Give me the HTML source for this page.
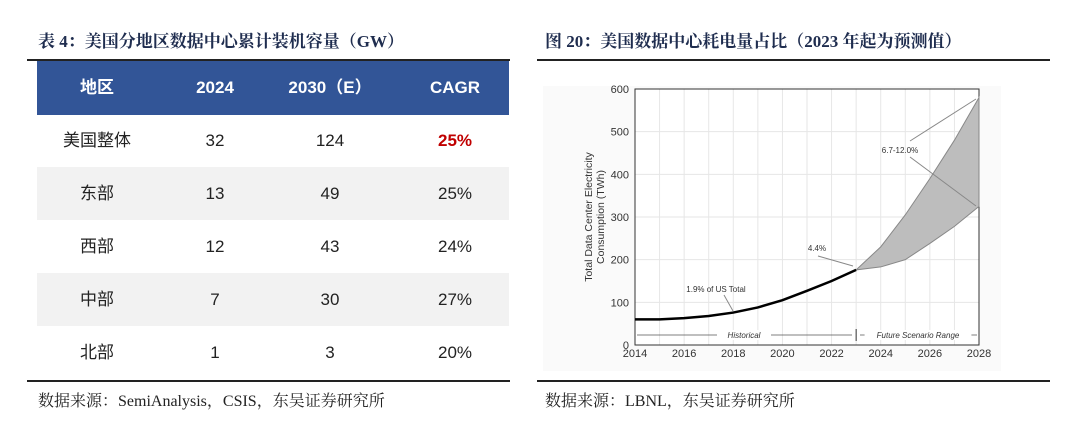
<!DOCTYPE html>
<html><head><meta charset="utf-8"><style>
body{margin:0;width:1080px;height:434px;background:#fff;position:relative;font-family:"Liberation Serif","Noto Serif CJK SC",serif;overflow:hidden}
.t{position:absolute;font-weight:bold;font-size:17px;color:#1f2d4f;line-height:24px}
.src{position:absolute;font-size:16px;color:#222;top:391px;line-height:22px}
.row{position:absolute;left:37px;width:472px;height:53px;font-family:"Liberation Sans","Noto Sans CJK SC",sans-serif;font-size:17px;color:#222}
.row span{position:absolute;top:0;line-height:53px;width:140px;margin-left:-70px;text-align:center}
.hd{background:#325597;color:#fff;font-weight:bold;height:54px}
.g{background:#f2f2f2}
</style></head><body>
<div class="t" style="left:38px;top:30px">表 4：美国分地区数据中心累计装机容量（GW）</div>
<div style="position:absolute;left:27px;top:59px;width:483px;height:2px;background:#222"></div>
<div>
<div class="row hd" style="top:61px"><span style="left:60px">地区</span><span style="left:178px">2024</span><span style="left:293px">2030（E）</span><span style="left:418px">CAGR</span></div>
<div class="row" style="top:114px"><span style="left:60px">美国整体</span><span style="left:178px">32</span><span style="left:293px">124</span><span style="left:418px;color:#c00000;font-weight:bold">25%</span></div>
<div class="row g" style="top:167px"><span style="left:60px">东部</span><span style="left:178px">13</span><span style="left:293px">49</span><span style="left:418px">25%</span></div>
<div class="row" style="top:220px"><span style="left:60px">西部</span><span style="left:178px">12</span><span style="left:293px">43</span><span style="left:418px">24%</span></div>
<div class="row g" style="top:273px"><span style="left:60px">中部</span><span style="left:178px">7</span><span style="left:293px">30</span><span style="left:418px">27%</span></div>
<div class="row" style="top:326px"><span style="left:60px">北部</span><span style="left:178px">1</span><span style="left:293px">3</span><span style="left:418px">20%</span></div>
</div>
<div style="position:absolute;left:27px;top:380px;width:483px;height:1.5px;background:#222"></div>
<div class="src" style="left:38px">数据来源：SemiAnalysis，CSIS，东吴证券研究所</div>

<div class="t" style="left:545px;top:30px">图 20：美国数据中心耗电量占比（2023 年起为预测值）</div>
<div style="position:absolute;left:537px;top:59px;width:513px;height:2px;background:#222"></div>
<div style="position:absolute;left:543px;top:86px;width:458px;height:285px;background:#fafafa"></div>
<div style="position:absolute;left:537px;top:380px;width:513px;height:1.5px;background:#222"></div>
<div class="src" style="left:545px">数据来源：LBNL，东吴证券研究所</div>
<svg id="c" width="1080" height="434" style="position:absolute;left:0;top:0" font-family="Liberation Sans, sans-serif"></svg>
<script>
const years=[2014,2015,2016,2017,2018,2019,2020,2021,2022,2023];
const hist=[60,60,63,68,76,88,105,127,150,176];
const fYears=[2023,2024,2025,2026,2027,2028];
const upper=[176,230,305,390,480,580];
const lower=[176,183,200,238,278,325];
const xTicks=[2014,2016,2018,2020,2022,2024,2026,2028];
const yTicks=[0,100,200,300,400,500,600];
const X=v=>635+(v-2014)*(979-635)/14, Y=v=>345-v*(345-89)/600;
const s=document.getElementById('c'),NS='http://www.w3.org/2000/svg';
function el(t,a,txt){const e=document.createElementNS(NS,t);for(const k in a)e.setAttribute(k,a[k]);if(txt!=null)e.textContent=txt;s.appendChild(e);return e;}
const bgp=el('rect',{x:635,y:89,width:344,height:256,fill:'#fff'});


for(let yr=2014;yr<=2028;yr++){const g=el('line',{x1:X(yr),x2:X(yr),y1:89,y2:345,stroke:'#e6e6e6'});

}
yTicks.forEach(v=>{const g=el('line',{x1:635,x2:979,y1:Y(v),y2:Y(v),stroke:'#e6e6e6'});


const t=el('text',{x:629,y:Y(v)+4,'text-anchor':'end','font-size':11,fill:'#333'},v);

});
xTicks.forEach(v=>{const t=el('text',{x:X(v),y:357,'text-anchor':'middle','font-size':11,fill:'#333'},v);

});
const fr=el('rect',{x:635,y:89,width:344,height:256,fill:'none',stroke:'#333'});


let d=fYears.map((y,i)=>(i?'L':'M')+X(y)+','+Y(upper[i])).join('')+fYears.slice().reverse().map((y,i)=>'L'+X(y)+','+Y(lower[lower.length-1-i])).join('')+'Z';
const band=el('path',{d,fill:'#bdbdbd',stroke:'#888'});


const hl=el('polyline',{points:years.map((y,i)=>X(y)+','+Y(hist[i])).join(' '),fill:'none',stroke:'#000','stroke-width':2.5});


const yt=el('text',{transform:'translate(592,217) rotate(-90)','text-anchor':'middle','font-size':10.5,fill:'#333'},'Total Data Center Electricity');


const yt2=el('text',{transform:'translate(604,217) rotate(-90)','text-anchor':'middle','font-size':10.5,fill:'#333'},'Consumption (TWh)');


const ann=[[716,292,'1.9% of US Total'],[817,251,'4.4%'],[900,153,'6.7-12.0%']];
ann.forEach(a=>{const t=el('text',{x:a[0],y:a[1],'text-anchor':'middle','font-size':8,fill:'#333'},a[2]);

});
[[724,295,733,311],[818,256,853,266],[910,141,976,99],[910,157,976,206]].forEach(l=>{const a=el('line',{x1:l[0],y1:l[1],x2:l[2],y2:l[3],stroke:'#888'});

});
const r1=el('line',{x1:637,x2:852,y1:335,y2:335,stroke:'#555','stroke-width':0.8});


const r2=el('line',{x1:860,x2:977,y1:335,y2:335,stroke:'#555','stroke-width':0.8});


const dv=el('line',{x1:X(2023),x2:X(2023),y1:329,y2:341,stroke:'#333'});


[[744,'Historical'],[918,'Future Scenario Range']].forEach(a=>{const bg=el('rect',{x:a[0]-a[1].length*2.4-3,y:330,width:a[1].length*4.8+6,height:10,fill:'#fff'});


const t=el('text',{x:a[0],y:338,'text-anchor':'middle','font-size':8,'font-style':'italic',fill:'#333'},a[1]);

});
</script>
</body></html>
